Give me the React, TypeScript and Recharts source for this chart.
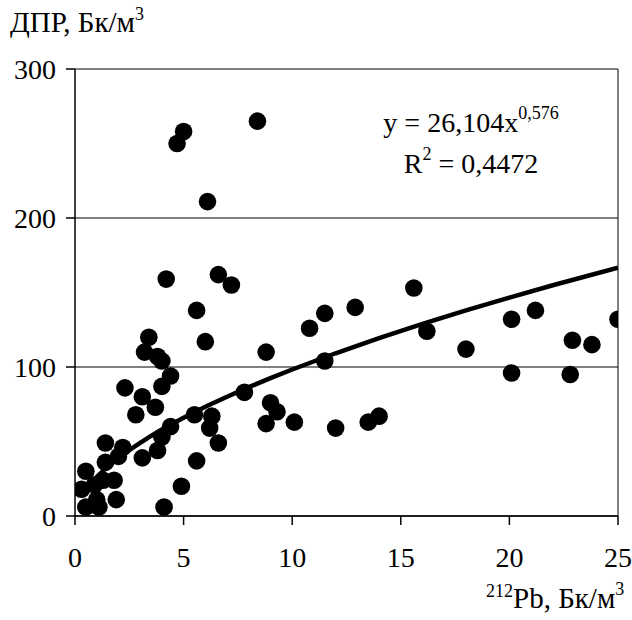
import React from 'react';
import { ScatterChart, Scatter, XAxis, YAxis, CartesianGrid, ReferenceLine, Label } from 'recharts';

// 212Pb activity (Bq/m3) and DPR (Bq/m3)
const pbX = [
  0.3, 0.5, 0.5, 0.9, 1.0, 1.1, 1.3, 1.4, 1.4, 1.8, 1.9, 2.0, 2.2, 3.1, 3.8, 4.1,
  4.9, 5.6, 4.0, 6.6, 4.4, 6.2, 2.8, 5.5, 6.3, 3.7, 3.1, 2.3, 4.0, 4.4, 4.0, 3.8,
  3.2, 3.4, 6.0, 5.6, 4.2, 6.6, 7.2, 6.1, 4.7, 5.0, 8.4, 7.8, 8.8, 9.0, 9.3, 8.8,
  10.1, 10.8, 11.5, 11.5, 12.0, 12.9, 13.5, 14.0, 15.6, 16.2, 18.0, 20.1, 20.1, 21.2,
  22.9, 22.8, 23.8, 25.0,
];
const dprY = [
  18, 30, 6, 21, 11, 6, 24, 49, 36, 24, 11, 40, 46, 39, 44, 6,
  20, 37, 53, 49, 60, 59, 68, 68, 67, 73, 80, 86, 87, 94, 104, 107,
  110, 120, 117, 138, 159, 162, 155, 211, 250, 258, 265, 83, 110, 76, 70, 62,
  63, 126, 136, 104, 59, 140, 63, 67, 153, 124, 112, 132, 96, 138,
  118, 95, 115, 132,
];

const xTicks = [0, 5, 10, 15, 20, 25];
const yTicks = [0, 100, 200, 300];

// Power trendline shown on the chart: y = 26,104 x^0,576, R^2 = 0,4472
const fitA = 26.104;
const fitB = 0.576;
const fitXs = [0.3, 0.5, 0.75, 1, 1.25, 1.5, 2, 2.5, 3, 3.5, 4, 5, 6, 7, 8, 9, 10, 12, 14, 16, 18, 20, 22, 25];

const points = pbX.map((x, i) => ({ x, y: dprY[i] }));
const trend = fitXs.map((x) => ({ x, y: fitA * Math.pow(x, fitB) }));

const FONT = '"Liberation Serif", "Times New Roman", Times, serif';

const Dot = (props: any) => <circle cx={props.cx} cy={props.cy} r={8.8} fill="#000" />;
const NoDot = () => <g />;

const YTitle = () => (
  <text x={10} y={32} style={{ fontFamily: FONT }} fontSize={29} fill="#000">
    ДПР, Бк/м<tspan dy={-12} fontSize={18}>3</tspan>
  </text>
);

const XTitle = () => (
  <text x={486} y={608} style={{ fontFamily: FONT }} fontSize={29} fill="#000">
    <tspan dy={-11} fontSize={18}>212</tspan>
    <tspan dy={11}>Pb, Бк/м</tspan>
    <tspan dy={-13} fontSize={18}>3</tspan>
  </text>
);

const Equation = () => (
  <g>
    <text x={471} y={132} style={{ fontFamily: FONT }} fontSize={28} fill="#000" textAnchor="middle">
      y = 26,104x<tspan dy={-13} fontSize={18}>0,576</tspan>
    </text>
    <text x={471} y={173} style={{ fontFamily: FONT }} fontSize={28} fill="#000" textAnchor="middle">
      R<tspan dy={-13} fontSize={18}>2</tspan>
      <tspan dy={13}> = 0,4472</tspan>
    </text>
  </g>
);

export default function App() {
  return (
    <div style={{ position: 'absolute', left: 0, top: 0, width: 632, height: 620, background: '#fff' }}>
      <ScatterChart width={632} height={620} margin={{ top: 69, right: 14, bottom: 44, left: 10 }}>
        <CartesianGrid vertical={false} stroke="#000" strokeWidth={1} />
        <XAxis
          type="number"
          dataKey="x"
          domain={[0, 25]}
          ticks={xTicks}
          height={60}
          tickSize={9}
          tickMargin={22}
          axisLine={{ stroke: '#000', strokeWidth: 1.5 }}
          tickLine={{ stroke: '#000', strokeWidth: 1.5 }}
          tick={{ fontFamily: FONT, fontSize: 28, fill: '#000' }}
          allowDataOverflow
        >
          <Label content={XTitle} />
          <Label content={Equation} />
        </XAxis>
        <YAxis
          type="number"
          dataKey="y"
          domain={[0, 300]}
          ticks={yTicks}
          width={65}
          tickSize={9}
          tickMargin={10}
          axisLine={{ stroke: '#000', strokeWidth: 1.5 }}
          tickLine={{ stroke: '#000', strokeWidth: 1.5 }}
          tick={{ fontFamily: FONT, fontSize: 28, fill: '#000' }}
          allowDataOverflow
        >
          <Label content={YTitle} />
        </YAxis>
        <ReferenceLine x={25} stroke="#000" strokeWidth={1} />
        <Scatter data={points} shape={Dot} isAnimationActive={false} />
        <Scatter
          data={trend}
          shape={NoDot}
          line={{ stroke: '#000', strokeWidth: 4.5 }}
          isAnimationActive={false}
        />
      </ScatterChart>
    </div>
  );
}
